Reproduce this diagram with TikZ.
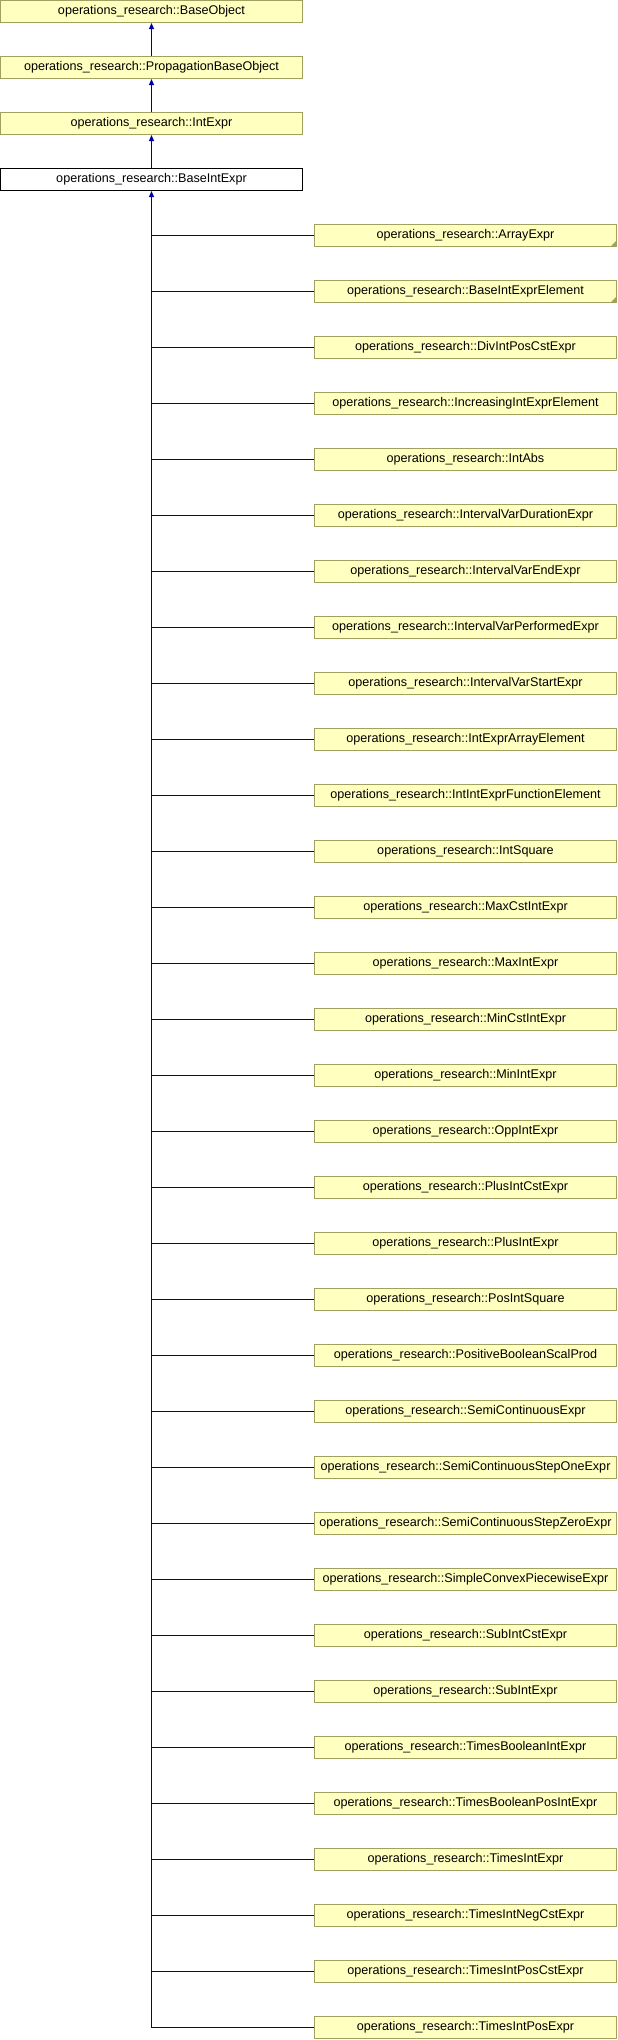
\documentclass[tikz,border=0pt]{standalone}
\usepackage{fontspec}
\setmainfont{Liberation Sans}
\usetikzlibrary{arrows.meta}

\newlength{\du}
\setlength{\du}{1pt}

\definecolor{classfillcolor}{rgb}{1.000000, 1.000000, 0.752941}
\definecolor{classlinecolor}{rgb}{0.627451, 0.627451, 0.376471}
\definecolor{edgelinecolor}{rgb}{0.000000, 0.000000, 0.627451}

\tikzset{
  classbox/.style={draw=classlinecolor,fill=classfillcolor,line width=1\du,
    minimum width=302\du,minimum height=22\du,inner sep=0pt,
    font=\fontsize{12.6}{14}\selectfont},
  thisbox/.style={classbox,draw=black,fill=white},
  edge/.style={draw=edgelinecolor,line width=1\du},
  inherit/.style={edge,{Triangle[length=6pt,width=5pt]}-},
  folded/.style={fill=classlinecolor}
}

\begin{document}
\begin{tikzpicture}
\useasboundingbox (0\du,0\du) rectangle (618\du,-2040\du);
% inheritance chain
\node[classbox] (baseobject) at (151.5\du,-11.5\du){operations\_research::BaseObject};
\node[classbox] (propagation) at (151.5\du,-67.5\du){operations\_research::PropagationBaseObject};
\node[classbox] (intexpr) at (151.5\du,-123.5\du){operations\_research::IntExpr};
\node[thisbox] (baseintexpr) at (151.5\du,-179.5\du){operations\_research::BaseIntExpr};
\draw[inherit] (baseobject.south)--(propagation.north);
\draw[inherit] (propagation.south)--(intexpr.north);
\draw[inherit] (intexpr.south)--(baseintexpr.north);
% derived classes
\node[classbox] (arrayexpr) at (465.5\du,-235.5\du){operations\_research::ArrayExpr};
\node[classbox] (baseintexprelement) at (465.5\du,-291.5\du){operations\_research::BaseIntExprElement};
\node[classbox] (divintposcstexpr) at (465.5\du,-347.5\du){operations\_research::DivIntPosCstExpr};
\node[classbox] (increasingintexprelement) at (465.5\du,-403.5\du){operations\_research::IncreasingIntExprElement};
\node[classbox] (intabs) at (465.5\du,-459.5\du){operations\_research::IntAbs};
\node[classbox] (intervalvardurationexpr) at (465.5\du,-515.5\du){operations\_research::IntervalVarDurationExpr};
\node[classbox] (intervalvarendexpr) at (465.5\du,-571.5\du){operations\_research::IntervalVarEndExpr};
\node[classbox] (intervalvarperformedexpr) at (465.5\du,-627.5\du){operations\_research::IntervalVarPerformedExpr};
\node[classbox] (intervalvarstartexpr) at (465.5\du,-683.5\du){operations\_research::IntervalVarStartExpr};
\node[classbox] (intexprarrayelement) at (465.5\du,-739.5\du){operations\_research::IntExprArrayElement};
\node[classbox] (intintexprfunctionelement) at (465.5\du,-795.5\du){operations\_research::IntIntExprFunctionElement};
\node[classbox] (intsquare) at (465.5\du,-851.5\du){operations\_research::IntSquare};
\node[classbox] (maxcstintexpr) at (465.5\du,-907.5\du){operations\_research::MaxCstIntExpr};
\node[classbox] (maxintexpr) at (465.5\du,-963.5\du){operations\_research::MaxIntExpr};
\node[classbox] (mincstintexpr) at (465.5\du,-1019.5\du){operations\_research::MinCstIntExpr};
\node[classbox] (minintexpr) at (465.5\du,-1075.5\du){operations\_research::MinIntExpr};
\node[classbox] (oppintexpr) at (465.5\du,-1131.5\du){operations\_research::OppIntExpr};
\node[classbox] (plusintcstexpr) at (465.5\du,-1187.5\du){operations\_research::PlusIntCstExpr};
\node[classbox] (plusintexpr) at (465.5\du,-1243.5\du){operations\_research::PlusIntExpr};
\node[classbox] (posintsquare) at (465.5\du,-1299.5\du){operations\_research::PosIntSquare};
\node[classbox] (positivebooleanscalprod) at (465.5\du,-1355.5\du){operations\_research::PositiveBooleanScalProd};
\node[classbox] (semicontinuousexpr) at (465.5\du,-1411.5\du){operations\_research::SemiContinuousExpr};
\node[classbox] (semicontinuousstepone) at (465.5\du,-1467.5\du){operations\_research::SemiContinuousStepOneExpr};
\node[classbox] (semicontinuousstepzero) at (465.5\du,-1523.5\du){operations\_research::SemiContinuousStepZeroExpr};
\node[classbox] (simpleconvexpiecewise) at (465.5\du,-1579.5\du){operations\_research::SimpleConvexPiecewiseExpr};
\node[classbox] (subintcstexpr) at (465.5\du,-1635.5\du){operations\_research::SubIntCstExpr};
\node[classbox] (subintexpr) at (465.5\du,-1691.5\du){operations\_research::SubIntExpr};
\node[classbox] (timesbooleanintexpr) at (465.5\du,-1747.5\du){operations\_research::TimesBooleanIntExpr};
\node[classbox] (timesbooleanposintexpr) at (465.5\du,-1803.5\du){operations\_research::TimesBooleanPosIntExpr};
\node[classbox] (timesintexpr) at (465.5\du,-1859.5\du){operations\_research::TimesIntExpr};
\node[classbox] (timesintnegcstexpr) at (465.5\du,-1915.5\du){operations\_research::TimesIntNegCstExpr};
\node[classbox] (timesintposcstexpr) at (465.5\du,-1971.5\du){operations\_research::TimesIntPosCstExpr};
\node[classbox] (timesintposexpr) at (465.5\du,-2027.5\du){operations\_research::TimesIntPosExpr};
% folded corners
\fill[folded] ([shift={(-0.5\du,0.5\du)}]arrayexpr.south east)--++(-6\du,0)--++(6\du,6\du)--cycle;
\fill[folded] ([shift={(-0.5\du,0.5\du)}]baseintexprelement.south east)--++(-6\du,0)--++(6\du,6\du)--cycle;
% trunk and branches
\draw[inherit] (baseintexpr.south)--(baseintexpr.south |- timesintposexpr.west);
\draw[edge] (baseintexpr.south |- arrayexpr.west)--(arrayexpr.west);
\draw[edge] (baseintexpr.south |- baseintexprelement.west)--(baseintexprelement.west);
\draw[edge] (baseintexpr.south |- divintposcstexpr.west)--(divintposcstexpr.west);
\draw[edge] (baseintexpr.south |- increasingintexprelement.west)--(increasingintexprelement.west);
\draw[edge] (baseintexpr.south |- intabs.west)--(intabs.west);
\draw[edge] (baseintexpr.south |- intervalvardurationexpr.west)--(intervalvardurationexpr.west);
\draw[edge] (baseintexpr.south |- intervalvarendexpr.west)--(intervalvarendexpr.west);
\draw[edge] (baseintexpr.south |- intervalvarperformedexpr.west)--(intervalvarperformedexpr.west);
\draw[edge] (baseintexpr.south |- intervalvarstartexpr.west)--(intervalvarstartexpr.west);
\draw[edge] (baseintexpr.south |- intexprarrayelement.west)--(intexprarrayelement.west);
\draw[edge] (baseintexpr.south |- intintexprfunctionelement.west)--(intintexprfunctionelement.west);
\draw[edge] (baseintexpr.south |- intsquare.west)--(intsquare.west);
\draw[edge] (baseintexpr.south |- maxcstintexpr.west)--(maxcstintexpr.west);
\draw[edge] (baseintexpr.south |- maxintexpr.west)--(maxintexpr.west);
\draw[edge] (baseintexpr.south |- mincstintexpr.west)--(mincstintexpr.west);
\draw[edge] (baseintexpr.south |- minintexpr.west)--(minintexpr.west);
\draw[edge] (baseintexpr.south |- oppintexpr.west)--(oppintexpr.west);
\draw[edge] (baseintexpr.south |- plusintcstexpr.west)--(plusintcstexpr.west);
\draw[edge] (baseintexpr.south |- plusintexpr.west)--(plusintexpr.west);
\draw[edge] (baseintexpr.south |- posintsquare.west)--(posintsquare.west);
\draw[edge] (baseintexpr.south |- positivebooleanscalprod.west)--(positivebooleanscalprod.west);
\draw[edge] (baseintexpr.south |- semicontinuousexpr.west)--(semicontinuousexpr.west);
\draw[edge] (baseintexpr.south |- semicontinuousstepone.west)--(semicontinuousstepone.west);
\draw[edge] (baseintexpr.south |- semicontinuousstepzero.west)--(semicontinuousstepzero.west);
\draw[edge] (baseintexpr.south |- simpleconvexpiecewise.west)--(simpleconvexpiecewise.west);
\draw[edge] (baseintexpr.south |- subintcstexpr.west)--(subintcstexpr.west);
\draw[edge] (baseintexpr.south |- subintexpr.west)--(subintexpr.west);
\draw[edge] (baseintexpr.south |- timesbooleanintexpr.west)--(timesbooleanintexpr.west);
\draw[edge] (baseintexpr.south |- timesbooleanposintexpr.west)--(timesbooleanposintexpr.west);
\draw[edge] (baseintexpr.south |- timesintexpr.west)--(timesintexpr.west);
\draw[edge] (baseintexpr.south |- timesintnegcstexpr.west)--(timesintnegcstexpr.west);
\draw[edge] (baseintexpr.south |- timesintposcstexpr.west)--(timesintposcstexpr.west);
\draw[edge] (baseintexpr.south |- timesintposexpr.west)--(timesintposexpr.west);
\end{tikzpicture}
\end{document}
